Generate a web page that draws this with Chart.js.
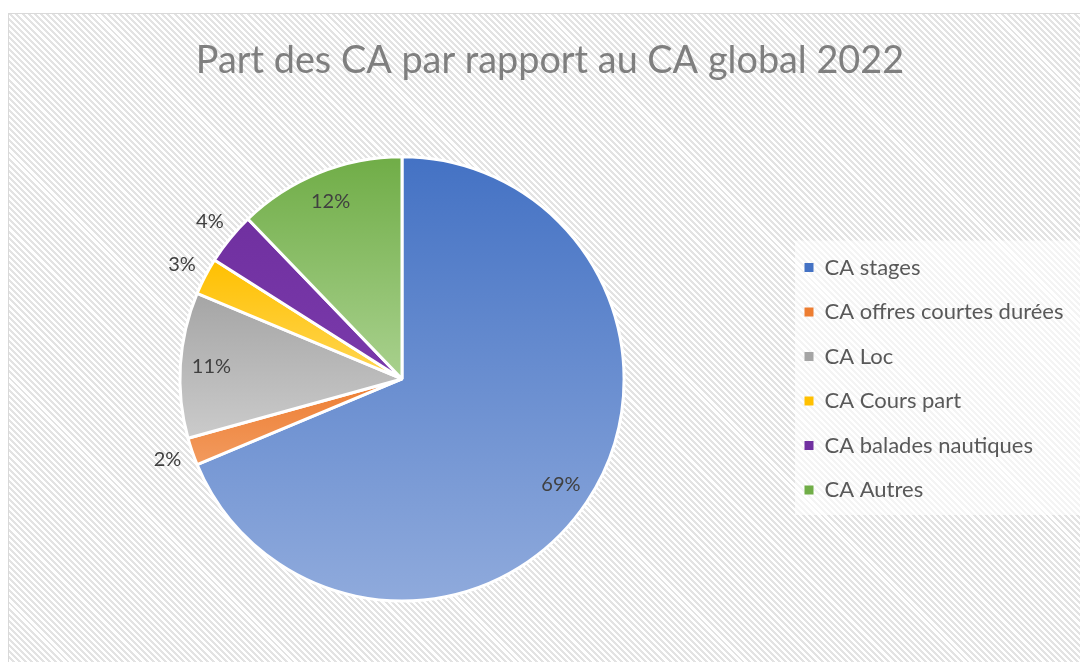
<!DOCTYPE html>
<html>
<head>
<meta charset="utf-8">
<script src="https://cdn.jsdelivr.net/npm/chart.js@4"></script>
<style>
  html, body { margin: 0; padding: 0; background: #fff; overflow: hidden; width: 1080px; height: 662px; }
  #box {
    position: absolute; left: 8px; top: 13px; width: 1090px; height: 660px;
    border-left: 1px solid #d9d9d9; border-top: 1px solid #d9d9d9;
    background: repeating-linear-gradient(45deg, #ffffff 0px, #ffffff 2.2px, #e3e3e3 2.2px, #e3e3e3 4.3px);
  }
  #chart { position: absolute; left: 8px; top: 13px; }
</style>
</head>
<body>
<div id="box"></div>
<canvas id="chart" width="1072" height="649"></canvas>
<script>
const labels = ["CA stages", "CA offres courtes durées", "CA Loc", "CA Cours part", "CA balades nautiques", "CA Autres"];
const values = [68.7, 2.0, 10.6, 2.7, 3.8, 12.2];
const topColors = ["#4472c4", "#ed7d31", "#a5a5a5", "#ffc000", "#7030a0", "#70ad47"];
const bottomColors = ["#8faadc", "#f29a5e", "#cbcbcb", "#ffd653", "#7a3aab", "#a9d18e"];

const FONT = "Lato, 'Open Sans', sans-serif";
const total = values.reduce((a, b) => a + b, 0);

// slice gradient from its own top to its own bottom
function sliceFill(ctx) {
  const chart = ctx.chart;
  const area = chart.chartArea;
  if (!area) return topColors[ctx.dataIndex];
  const cx = (area.left + area.right) / 2;
  const cy = (area.top + area.bottom) / 2;
  const r = (Math.min(area.right - area.left, area.bottom - area.top) - 3) / 2;
  let a0 = -Math.PI / 2;
  for (let i = 0; i < ctx.dataIndex; i++) a0 += values[i] / total * Math.PI * 2;
  const a1 = a0 + values[ctx.dataIndex] / total * Math.PI * 2;
  const ys = [cy, cy + r * Math.sin(a0), cy + r * Math.sin(a1)];
  for (let k = -1; k < 3; k++) {
    const a = Math.PI / 2 + k * Math.PI;
    if (a > a0 && a < a1) ys.push(cy + r * Math.sin(a));
  }
  const y0 = Math.min(...ys), y1 = Math.max(...ys);
  const g = chart.ctx.createLinearGradient(0, y0, 0, y1);
  g.addColorStop(0, topColors[ctx.dataIndex]);
  g.addColorStop(1, bottomColors[ctx.dataIndex]);
  return g;
}

// fixed legend width, and push the legend items down to the pie centre
const legendFit = {
  id: "legendFit",
  beforeLayout(chart) {
    const lg = chart.legend;
    if (lg && !lg._wrapped) {
      const orig = lg.fit;
      lg.fit = function () { orig.call(this); this.width = 296; };
      lg._wrapped = true;
    }
  },
  afterLayout(chart) {
    const lg = chart.legend;
    if (lg) { lg.top += 71; lg.bottom += 71; }
  }
};

const legendBack = {
  id: "legendBack",
  beforeDraw(chart) {
    const lg = chart.legend;
    if (!lg || !lg.legendHitBoxes || !lg.legendHitBoxes.length) return;
    const boxes = lg.legendHitBoxes;
    const top = boxes[0].top - 16;
    const bottom = boxes[boxes.length - 1].top + boxes[boxes.length - 1].height + 14;
    const c = chart.ctx;
    c.save();
    c.fillStyle = "rgba(255,255,255,0.6)";
    c.fillRect(lg.left + 13, top, chart.width - lg.left, bottom - top);
    c.restore();
  }
};

const dataLabels = {
  id: "dataLabels",
  afterDatasetsDraw(chart) {
    const c = chart.ctx;
    const arcs = chart.getDatasetMeta(0).data;
    c.save();
    c.font = "20px " + FONT;
    c.fillStyle = "#404040";
    c.textAlign = "center";
    c.textBaseline = "middle";
    arcs.forEach((arc, i) => {
      const pct = values[i] / total * 100;
      const mid = (arc.startAngle + arc.endAngle) / 2;
      const d = pct >= 5 ? arc.outerRadius * 0.86 : arc.outerRadius + 26;
      c.fillText(Math.round(pct) + "%", arc.x + Math.cos(mid) * d, arc.y + Math.sin(mid) * d);
    });
    c.restore();
  }
};

new Chart(document.getElementById("chart"), {
  type: "pie",
  data: {
    labels: labels,
    datasets: [{
      data: values,
      backgroundColor: sliceFill,
      borderColor: "#ffffff",
      borderWidth: 3,
      hoverOffset: 0
    }]
  },
  options: {
    responsive: false,
    animation: false,
    events: [],
    layout: { padding: { left: 14, right: 2, top: 0, bottom: 59.5 } },
    plugins: {
      title: {
        display: true,
        text: "Part des CA par rapport au CA global 2022",
        color: "#7f7f7f",
        font: { family: FONT, size: 37.8, weight: "normal" },
        padding: { top: 25, bottom: 72 }
      },
      legend: {
        position: "right",
        align: "center",
        labels: {
          color: "#595959",
          font: { family: FONT, size: 22 },
          boxWidth: 9,
          boxHeight: 9,
          padding: 22.5,
          generateLabels(chart) {
            return labels.map((t, i) => ({
              text: t,
              fillStyle: topColors[i],
              strokeStyle: topColors[i],
              lineWidth: 0,
              fontColor: "#595959",
              hidden: false,
              index: i
            }));
          }
        }
      },
      tooltip: { enabled: false }
    }
  },
  plugins: [legendFit, legendBack, dataLabels]
});
</script>
</body>
</html>
